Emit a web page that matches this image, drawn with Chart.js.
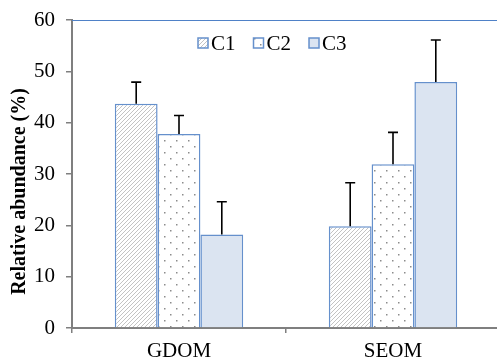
<!DOCTYPE html>
<html>
<head>
<meta charset="utf-8">
<script src="https://cdn.jsdelivr.net/npm/chart.js@4.4.0/dist/chart.umd.min.js"></script>
<style>
  html, body { margin: 0; padding: 0; background: #fff; overflow: hidden; }
  #wrap { width: 500px; height: 364px; }
</style>
</head>
<body>
<div id="wrap"><canvas id="myChart"></canvas></div>
<script>
// values
let categories = ['GDOM', 'SEOM'];
let c1_values = [43.7, 19.8];
let c2_values = [37.8, 31.9];
let c3_values = [18.2, 47.9];
let c1_errors = [4.2, 8.5];
let c2_errors = [3.6, 6.2];
let c3_errors = [6.4, 8.2];
let y_ticks = [0, 10, 20, 30, 40, 50, 60];

let border_blue = '#6590cc';
let font_family = 'Liberation Serif';

// fill patterns for the bars
function hatchPattern() {
  let c = document.createElement('canvas');
  c.width = 4; c.height = 4;
  let g = c.getContext('2d');
  g.fillStyle = '#ffffff';
  g.fillRect(0, 0, 4, 4);
  g.strokeStyle = '#bcbcbc';
  g.lineWidth = 0.9;
  g.beginPath();
  g.moveTo(-1, 5); g.lineTo(5, -1);
  g.moveTo(-1, 1); g.lineTo(1, -1);
  g.moveTo(3, 5); g.lineTo(5, 3);
  g.stroke();
  return g.createPattern(c, 'repeat');
}

function dotPattern() {
  let c = document.createElement('canvas');
  c.width = 12; c.height = 12;
  let g = c.getContext('2d');
  g.fillStyle = '#ffffff';
  g.fillRect(0, 0, 12, 12);
  g.fillStyle = '#8c8c8c';
  g.fillRect(2, 2, 1.5, 1.5);
  g.fillRect(8, 8, 1.5, 1.5);
  return g.createPattern(c, 'repeat');
}

// one-sided error bars on top of each bar
const errorBars = {
  id: 'errorBars',
  afterDatasetsDraw(chart) {
    let ctx = chart.ctx;
    let yScale = chart.scales.y;
    ctx.save();
    ctx.strokeStyle = '#000';
    ctx.lineWidth = 1.6;
    chart.data.datasets.forEach((ds, i) => {
      let meta = chart.getDatasetMeta(i);
      meta.data.forEach((bar, j) => {
        let top = yScale.getPixelForValue(ds.data[j] + ds.errors[j]);
        ctx.beginPath();
        ctx.moveTo(bar.x, bar.y);
        ctx.lineTo(bar.x, top);
        ctx.moveTo(bar.x - 5, top);
        ctx.lineTo(bar.x + 5, top);
        ctx.stroke();
      });
    });
    ctx.restore();
  }
};

// blue line along the top of the plot area
const topLine = {
  id: 'topLine',
  beforeDatasetsDraw(chart) {
    let a = chart.chartArea;
    let ctx = chart.ctx;
    ctx.save();
    ctx.strokeStyle = '#4f81c7';
    ctx.lineWidth = 1;
    ctx.beginPath();
    ctx.moveTo(a.left, a.top + 0.5);
    ctx.lineTo(a.right, a.top + 0.5);
    ctx.stroke();
    ctx.restore();
  }
};

// legend drawn inside the plot area, near the top
const innerLegend = {
  id: 'innerLegend',
  afterDraw(chart) {
    let a = chart.chartArea;
    let ctx = chart.ctx;
    let x = a.left + 126;
    let y = a.top + 23;
    ctx.save();
    ctx.font = '21px ' + font_family;
    ctx.textBaseline = 'middle';
    chart.data.datasets.forEach(ds => {
      ctx.fillStyle = ds.backgroundColor;
      ctx.fillRect(x, y - 5, 10, 10);
      ctx.strokeStyle = ds.borderColor;
      ctx.lineWidth = 1.5;
      ctx.strokeRect(x, y - 5, 10, 10);
      ctx.fillStyle = '#000';
      ctx.fillText(ds.label, x + 13, y + 1);
      x += 13 + ctx.measureText(ds.label).width + 18;
    });
    ctx.restore();
  }
};

let ctx = document.getElementById('myChart').getContext('2d');
let mychart = new Chart(ctx, {
  type: 'bar',
  data: {
    labels: categories,
    datasets: [
      { label: 'C1', data: c1_values, errors: c1_errors, backgroundColor: hatchPattern(), borderColor: border_blue, borderWidth: 1.5 },
      { label: 'C2', data: c2_values, errors: c2_errors, backgroundColor: dotPattern(), borderColor: border_blue, borderWidth: 1.5 },
      { label: 'C3', data: c3_values, errors: c3_errors, backgroundColor: '#dbe4f1', borderColor: border_blue, borderWidth: 1.5 }
    ]
  },
  plugins: [errorBars, topLine, innerLegend],
  options: {
    responsive: true,
    maintainAspectRatio: false,
    animation: false,
    layout: { padding: { left: 6, right: 0, top: 20, bottom: 0 } },
    datasets: { bar: { categoryPercentage: 0.6, barPercentage: 1.0 } },
    plugins: {
      tooltip: { enabled: false },
      legend: { display: false }
    },
    scales: {
      x: {
        afterFit: (axis) => { axis.height = 36; },
        grid: { display: true, offset: true, drawOnChartArea: false, drawTicks: true, tickLength: 5, color: '#7f7f7f', lineWidth: 1.5 },
        border: { color: '#7f7f7f', width: 2 },
        ticks: { color: '#000', font: { family: font_family, size: 21 }, padding: 6 }
      },
      y: {
        min: 0,
        max: 60,
        afterFit: (axis) => { axis.width = 66; axis.paddingTop = 0; axis.paddingBottom = 0; },
        afterBuildTicks: (axis) => { axis.ticks = y_ticks.map(v => ({ value: v })); },
        grid: { drawOnChartArea: false, drawTicks: true, tickLength: 6, color: '#7f7f7f', lineWidth: 1.5 },
        border: { color: '#7f7f7f', width: 2 },
        ticks: { color: '#000', font: { family: font_family, size: 21 }, padding: 11 },
        title: {
          display: true,
          // trailing spaces nudge the title down a little, like the original
          text: 'Relative abundance (%)       ',
          color: '#000',
          font: { family: font_family, size: 20, weight: 'bold' },
          padding: { top: 2, bottom: 0 }
        }
      }
    }
  }
});
</script>
</body>
</html>
